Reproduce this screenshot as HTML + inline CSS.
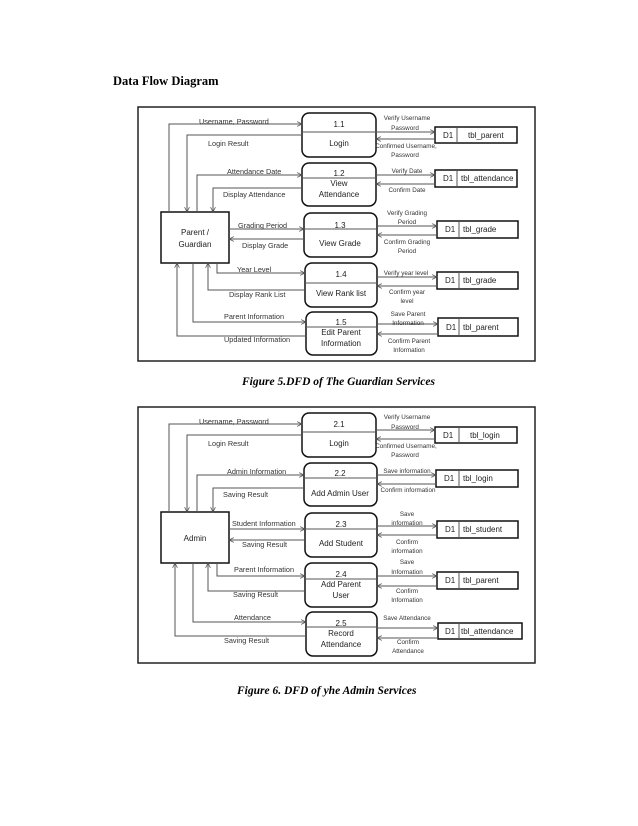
<!DOCTYPE html>
<html><head><meta charset="utf-8"><style>
html,body{margin:0;padding:0;background:#fff;}
svg{display:block;}
.t{font-family:"Liberation Sans",sans-serif;font-size:7.3px;fill:#333;}
.s{font-family:"Liberation Sans",sans-serif;font-size:6.3px;fill:#333;}
.p{font-family:"Liberation Sans",sans-serif;font-size:8px;fill:#222;}
.cap{font-family:"Liberation Serif",serif;font-size:11.5px;font-weight:bold;font-style:italic;fill:#000;}
</style></head><body>
<svg width="638" height="826" viewBox="0 0 638 826" xmlns="http://www.w3.org/2000/svg">
<defs>
<marker id="a" viewBox="0 0 10 10" refX="9" refY="5" markerWidth="6" markerHeight="6" orient="auto"><path d="M1,1 L9,5 L1,9" fill="none" stroke="#555" stroke-width="1.3"/></marker>
</defs>
<text x="113" y="85" font-family="Liberation Serif,serif" font-size="12.5" font-weight="bold">Data Flow Diagram</text>

<!-- Diagram 1 -->
<g stroke="#555" stroke-width="1" fill="none">
<rect x="138" y="107" width="397" height="254" stroke="#222" stroke-width="1.5"/>
<rect x="161" y="212" width="68" height="51" stroke="#111" stroke-width="1.5"/>
<rect x="302" y="113" width="74" height="44" rx="7" stroke="#111" stroke-width="1.5"/><line x1="302" y1="132" x2="376" y2="132"/>
<rect x="302" y="163" width="74" height="43" rx="7" stroke="#111" stroke-width="1.5"/><line x1="302" y1="178" x2="376" y2="178"/>
<rect x="304" y="213" width="73" height="44" rx="7" stroke="#111" stroke-width="1.5"/><line x1="304" y1="229" x2="377" y2="229"/>
<rect x="305" y="263" width="72" height="44" rx="7" stroke="#111" stroke-width="1.5"/><line x1="305" y1="283" x2="377" y2="283"/>
<rect x="306" y="312" width="71" height="43" rx="7" stroke="#111" stroke-width="1.5"/><line x1="306" y1="327" x2="377" y2="327"/>
<rect x="435" y="127" width="82" height="16" stroke="#111" stroke-width="1.5"/><line x1="457" y1="127" x2="457" y2="143"/>
<rect x="435" y="170" width="82" height="17" stroke="#111" stroke-width="1.5"/><line x1="457" y1="170" x2="457" y2="187"/>
<rect x="437" y="221" width="81" height="17" stroke="#111" stroke-width="1.5"/><line x1="459" y1="221" x2="459" y2="238"/>
<rect x="437" y="272" width="81" height="17" stroke="#111" stroke-width="1.5"/><line x1="459" y1="272" x2="459" y2="289"/>
<rect x="438" y="318" width="80" height="18" stroke="#111" stroke-width="1.5"/><line x1="459" y1="318" x2="459" y2="336"/>
<polyline points="169,212 169,124 302,124" marker-end="url(#a)"/>
<polyline points="302,135 187,135 187,212" marker-end="url(#a)"/>
<polyline points="197,212 197,175 302,175" marker-end="url(#a)"/>
<polyline points="302,188 213,188 213,212" marker-end="url(#a)"/>
<polyline points="229,229 304,229" marker-end="url(#a)"/>
<polyline points="304,239 229,239" marker-end="url(#a)"/>
<polyline points="217,263 217,273 305,273" marker-end="url(#a)"/>
<polyline points="305,290 208,290 208,263" marker-end="url(#a)"/>
<polyline points="193,263 193,322 306,322" marker-end="url(#a)"/>
<polyline points="306,336 177,336 177,263" marker-end="url(#a)"/>
<line x1="376" y1="132" x2="435" y2="132" marker-end="url(#a)"/><line x1="435" y1="139" x2="376" y2="139" marker-end="url(#a)"/>
<line x1="376" y1="175" x2="435" y2="175" marker-end="url(#a)"/><line x1="435" y1="184" x2="376" y2="184" marker-end="url(#a)"/>
<line x1="377" y1="226" x2="437" y2="226" marker-end="url(#a)"/><line x1="437" y1="235" x2="377" y2="235" marker-end="url(#a)"/>
<line x1="377" y1="277" x2="437" y2="277" marker-end="url(#a)"/><line x1="437" y1="286" x2="377" y2="286" marker-end="url(#a)"/>
<line x1="377" y1="324" x2="438" y2="324" marker-end="url(#a)"/><line x1="438" y1="334" x2="377" y2="334" marker-end="url(#a)"/>
</g>
<g class="p" text-anchor="middle">
<text x="195" y="235">Parent /</text><text x="195" y="247">Guardian</text>
<text x="339" y="127">1.1</text><text x="339" y="146">Login</text>
<text x="339" y="176">1.2</text><text x="339" y="186">View</text><text x="339" y="197">Attendance</text>
<text x="340" y="228">1.3</text><text x="340" y="246">View Grade</text>
<text x="341" y="277">1.4</text><text x="341" y="296">View Rank list</text>
<text x="341" y="325">1.5</text><text x="341" y="335">Edit Parent</text><text x="341" y="346">Information</text>
</g>
<g class="p">
<text x="443" y="138">D1</text><text x="468" y="138">tbl_parent</text>
<text x="443" y="181">D1</text><text x="461" y="181">tbl_attendance</text>
<text x="445" y="232">D1</text><text x="463" y="232">tbl_grade</text>
<text x="445" y="283">D1</text><text x="463" y="283">tbl_grade</text>
<text x="446" y="330">D1</text><text x="463" y="330">tbl_parent</text>
</g>
<g class="t">
<text x="199" y="124">Username, Password</text><text x="208" y="146">Login Result</text>
<text x="227" y="174">Attendance Date</text><text x="223" y="197">Display Attendance</text>
<text x="238" y="228">Grading Period</text><text x="242" y="248">Display Grade</text>
<text x="237" y="272">Year Level</text><text x="229" y="297">Display Rank List</text>
<text x="224" y="319">Parent Information</text><text x="224" y="342">Updated Information</text>
</g>
<g class="s" text-anchor="middle">
<text x="407" y="120">Verify Username</text><text x="405" y="130">Password</text>
<text x="406" y="148">Confirmed Username,</text><text x="405" y="157">Password</text>
<text x="407" y="173">Verify Date</text><text x="407" y="192">Confirm Date</text>
<text x="407" y="215">Verify Grading</text><text x="407" y="224">Period</text>
<text x="407" y="244">Confirm Grading</text><text x="407" y="253">Period</text>
<text x="406" y="275">Verify year level</text><text x="407" y="294">Confirm year</text><text x="407" y="303">level</text>
<text x="408" y="316">Save Parent</text><text x="408" y="325">Information</text>
<text x="409" y="343">Confirm Parent</text><text x="409" y="352">Information</text>
</g>
<text class="cap" x="242" y="385">Figure 5.DFD of The Guardian Services</text>

<!-- Diagram 2 -->
<g transform="translate(0,300)">
<g stroke="#555" stroke-width="1" fill="none">
<rect x="138" y="107" width="397" height="256" stroke="#222" stroke-width="1.5"/>
<rect x="161" y="212" width="68" height="51" stroke="#111" stroke-width="1.5"/>
<rect x="302" y="113" width="74" height="44" rx="7" stroke="#111" stroke-width="1.5"/><line x1="302" y1="132" x2="376" y2="132"/>
<rect x="304" y="163" width="73" height="43" rx="7" stroke="#111" stroke-width="1.5"/><line x1="304" y1="178" x2="377" y2="178"/>
<rect x="305" y="213" width="72" height="44" rx="7" stroke="#111" stroke-width="1.5"/><line x1="305" y1="229" x2="377" y2="229"/>
<rect x="305" y="263" width="72" height="44" rx="7" stroke="#111" stroke-width="1.5"/><line x1="305" y1="279" x2="377" y2="279"/>
<rect x="306" y="312" width="71" height="44" rx="7" stroke="#111" stroke-width="1.5"/><line x1="306" y1="327" x2="377" y2="327"/>
<rect x="435" y="127" width="82" height="16" stroke="#111" stroke-width="1.5"/><line x1="459" y1="127" x2="459" y2="143"/>
<rect x="436" y="170" width="82" height="17" stroke="#111" stroke-width="1.5"/><line x1="459" y1="170" x2="459" y2="187"/>
<rect x="437" y="221" width="81" height="17" stroke="#111" stroke-width="1.5"/><line x1="459" y1="221" x2="459" y2="238"/>
<rect x="437" y="272" width="81" height="17" stroke="#111" stroke-width="1.5"/><line x1="459" y1="272" x2="459" y2="289"/>
<rect x="438" y="323" width="84" height="16" stroke="#111" stroke-width="1.5"/><line x1="459" y1="323" x2="459" y2="339"/>
<polyline points="169,212 169,124 302,124" marker-end="url(#a)"/>
<polyline points="302,135 187,135 187,212" marker-end="url(#a)"/>
<polyline points="197,212 197,175 304,175" marker-end="url(#a)"/>
<polyline points="304,188 213,188 213,212" marker-end="url(#a)"/>
<polyline points="229,229 305,229" marker-end="url(#a)"/>
<polyline points="305,240 229,240" marker-end="url(#a)"/>
<polyline points="217,263 217,276 305,276" marker-end="url(#a)"/>
<polyline points="305,291 208,291 208,263" marker-end="url(#a)"/>
<polyline points="193,263 193,322 306,322" marker-end="url(#a)"/>
<polyline points="306,336 175,336 175,263" marker-end="url(#a)"/>
<line x1="376" y1="130" x2="435" y2="130" marker-end="url(#a)"/><line x1="435" y1="139" x2="376" y2="139" marker-end="url(#a)"/>
<line x1="377" y1="175" x2="436" y2="175" marker-end="url(#a)"/><line x1="436" y1="184" x2="377" y2="184" marker-end="url(#a)"/>
<line x1="377" y1="226" x2="437" y2="226" marker-end="url(#a)"/><line x1="437" y1="235" x2="377" y2="235" marker-end="url(#a)"/>
<line x1="377" y1="276" x2="437" y2="276" marker-end="url(#a)"/><line x1="437" y1="286" x2="377" y2="286" marker-end="url(#a)"/>
<line x1="377" y1="328" x2="438" y2="328" marker-end="url(#a)"/><line x1="438" y1="338" x2="377" y2="338" marker-end="url(#a)"/>
</g>
<g class="p" text-anchor="middle">
<text x="195" y="241">Admin</text>
<text x="339" y="127">2.1</text><text x="339" y="146">Login</text>
<text x="340" y="176">2.2</text><text x="340" y="196">Add Admin User</text>
<text x="341" y="227">2.3</text><text x="341" y="246">Add Student</text>
<text x="341" y="277">2.4</text><text x="341" y="287">Add Parent</text><text x="341" y="298">User</text>
<text x="341" y="326">2.5</text><text x="341" y="336">Record</text><text x="341" y="347">Attendance</text>
</g>
<g class="p">
<text x="443" y="138">D1</text><text x="470" y="138">tbl_login</text>
<text x="444" y="181">D1</text><text x="463" y="181">tbl_login</text>
<text x="445" y="232">D1</text><text x="463" y="232">tbl_student</text>
<text x="445" y="283">D1</text><text x="463" y="283">tbl_parent</text>
<text x="445" y="334">D1</text><text x="461" y="334">tbl_attendance</text>
</g>
<g class="t">
<text x="199" y="124">Username, Password</text><text x="208" y="146">Login Result</text>
<text x="227" y="174">Admin Information</text><text x="223" y="197">Saving Result</text>
<text x="232" y="226">Student Information</text><text x="242" y="247">Saving Result</text>
<text x="234" y="272">Parent Information</text><text x="233" y="297">Saving Result</text>
<text x="234" y="320">Attendance</text><text x="224" y="343">Saving Result</text>
</g>
<g class="s" text-anchor="middle">
<text x="407" y="119">Verify Username</text><text x="405" y="129">Password</text>
<text x="406" y="148">Confirmed Username,</text><text x="405" y="157">Password</text>
<text x="407" y="173">Save information</text><text x="408" y="192">Confirm information</text>
<text x="407" y="216">Save</text><text x="407" y="225">information</text>
<text x="407" y="244">Confirm</text><text x="407" y="253">information</text>
<text x="407" y="264">Save</text><text x="407" y="274">Information</text>
<text x="407" y="293">Confirm</text><text x="407" y="302">Information</text>
<text x="407" y="320">Save Attendance</text>
<text x="408" y="344">Confirm</text><text x="408" y="353">Attendance</text>
</g>
</g>
<text class="cap" x="237" y="694">Figure 6. DFD of yhe Admin Services</text>
</svg>
</body></html>
